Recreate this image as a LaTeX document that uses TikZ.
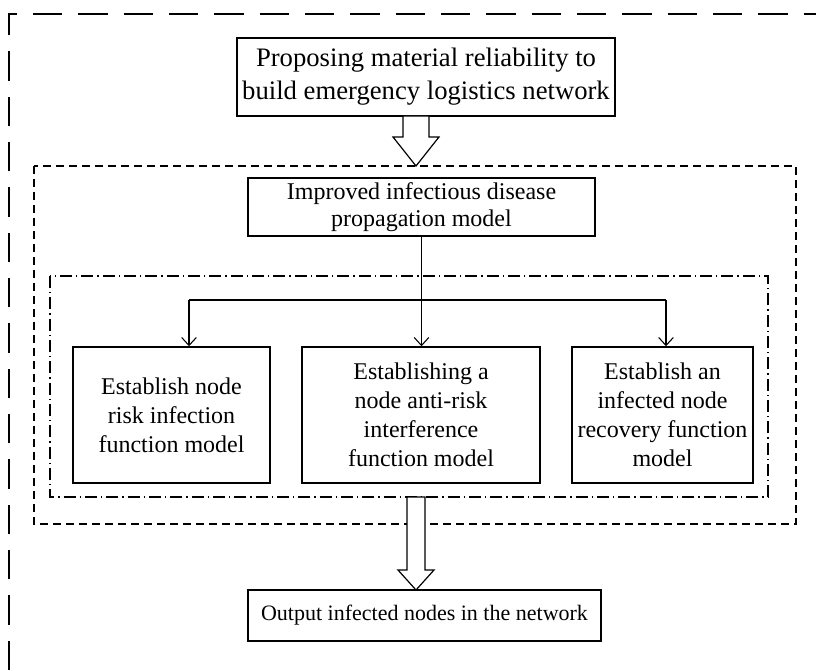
\documentclass[tikz,border=0pt]{standalone}
\usepackage{fontspec}
\setmainfont{Liberation Serif}
\usetikzlibrary{arrows.meta}
\newcommand{\hollowarrow}[6]{% x, top y, tip y, shaft half, head half, head length
	\draw[line width=0.9pt,fill=white,line join=miter] (#1-#4,#2)--(#1+#4,#2)--(#1+#4,#3-#6)--(#1+#5,#3-#6)--(#1,#3)--(#1-#5,#3-#6)--(#1-#4,#3-#6)--cycle;}
\begin{document}
\begin{tikzpicture}[x=0.75pt,y=-0.75pt,>={Straight Barb[length=6pt,width=11pt]}]
	\tikzset{
		box/.style 2 args={draw,line width=1.1pt,align=center,inner sep=0pt,font=\fontsize{#1}{#2}\selectfont}
	}
	\useasboundingbox (0,0) rectangle (816,670);
	% outer frame, only top and left edges shown
	\draw[line width=1.5pt,dash pattern=on 22pt off 12pt] (9,670)--(9,14)--(816,14);
	% stage frames
	\draw[line width=1pt,dash pattern=on 6pt off 3.75pt] (34,166) rectangle (796,524);
	\draw[line width=1pt,dash pattern=on 9pt off 3pt on 1pt off 3pt] (50,276) rectangle (768,497);
	% nodes
	\node[box={20pt}{24.75pt},minimum width=378*0.75pt,minimum height=78*0.75pt] (top) at (426,77)
		{Proposing material reliability to\\build emergency logistics network};
	\node[box={18pt}{20.5pt},minimum width=347*0.75pt,minimum height=58*0.75pt] (imp) at (421.5,207)
		{Improved infectious disease\\propagation model};
	\node[box={18pt}{21.75pt},minimum width=197*0.75pt,minimum height=136*0.75pt] (b1) at (171.5,415)
		{Establish node\\risk infection\\function model};
	\node[box={18pt}{21.75pt},minimum width=238*0.75pt,minimum height=136*0.75pt] (b2) at (421,415)
		{Establishing a\\node anti-risk\\interference\\function model};
	\node[box={18pt}{21.75pt},minimum width=181*0.75pt,minimum height=136*0.75pt] (b3) at (662.5,415)
		{Establish an\\infected node\\recovery function\\model};
	\node[box={16.5pt}{20pt},minimum width=353*0.75pt,minimum height=51*0.75pt] (out) at (424.5,615.5)
		{Output infected nodes in the network};
	% hollow arrows
	\hollowarrow{416}{116}{166}{13}{23}{29}
	\hollowarrow{416}{497}{590}{9}{18}{20}
	% branching
	\coordinate (j1) at (189,300);
	\coordinate (j3) at (666,300);
	\draw[line width=0.8pt] (imp.south) -- (imp.south |- j1);
	\draw[line width=0.8pt] (j1) -- (j3);
	\draw[line width=0.8pt,->] (j1) -- (j1 |- b1.north);
	\draw[line width=0.8pt,->] (imp.south |- j1) -- (imp.south |- b2.north);
	\draw[line width=0.8pt,->] (j3) -- (j3 |- b3.north);
\end{tikzpicture}
\end{document}
